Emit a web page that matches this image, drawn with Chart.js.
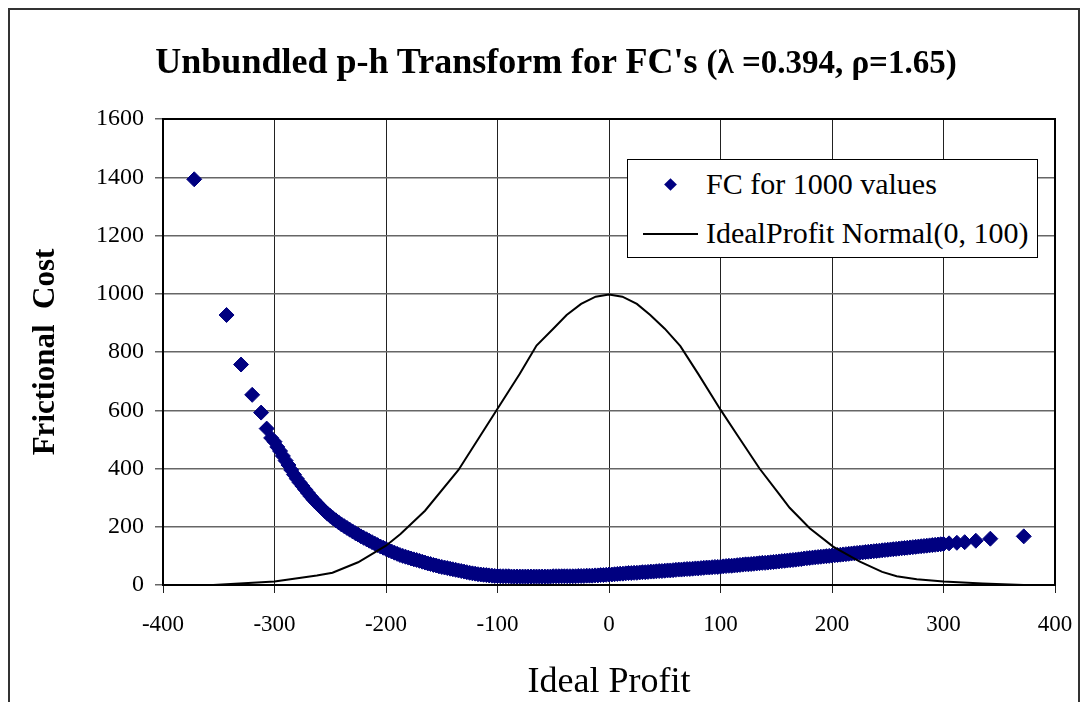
<!DOCTYPE html>
<html>
<head>
<meta charset="utf-8">
<script src="https://cdn.jsdelivr.net/npm/chart.js@4.4.0/dist/chart.umd.min.js"></script>
<style>
  body { margin: 0; background: #fff; font-family: "Liberation Serif", "Times New Roman", serif; }
  #wrap { position: relative; width: 1086px; height: 702px; overflow: hidden; }
  #frame { position: absolute; left: 8px; top: 8px; width: 1072px; height: 720px; border: 2px solid #333; box-sizing: border-box; }
  canvas { position: absolute; left: 0; top: 0; }
  #title { position: absolute; left: 0; width: 1112px; top: 46px; line-height: 30px; text-align: center;
           font-weight: bold; font-size: 36px; white-space: nowrap; color: #000; }
  #title span { font-size: 33px; }
  #legend { position: absolute; left: 627px; top: 159px; width: 411px; height: 99px; border: 1.5px solid #000;
            box-sizing: border-box; background: #fff; font-size: 30px; color: #000; }
  .row { position: absolute; left: 78px; height: 40px; line-height: 40px; white-space: nowrap; }
  .dia { position: absolute; left: 38px; top: 20px; width: 9px; height: 9px; background: #000080; transform: rotate(45deg); }
  .ln { position: absolute; left: 15px; top: 73px; width: 55px; height: 2px; background: #000; }
</style>
</head>
<body>
<div id="wrap">
  <div id="frame"></div>
  <canvas id="chart" width="1086" height="702"></canvas>
  <div id="title">Unbundled p-h Transform for FC's <span>(λ =0.394, ρ=1.65)</span></div>
  <div id="legend">
    <div class="dia"></div>
    <div class="row" style="top:4px">FC for 1000 values</div>
    <div class="ln"></div>
    <div class="row" style="top:53px">IdealProfit Normal(0, 100)</div>
  </div>
</div>
<script>
// axis ranges
const xMin = -400, xMax = 400, xStep = 100;
const yMin = 0, yMax = 1600, yStep = 200;

// frictional cost points, x and y rows line up
const fcX = [
  -372, -343, -330, -320, -312, -307, -303,
  -300, -297.5, -295, -292.5, -290, -287.5, -285, -282.5, -280, -277.5,
  -275, -272.5, -270, -267.5, -265, -262.5, -260, -257.5, -255, -252.5,
  -250, -247.5, -245, -242.5, -240, -237.5, -235, -232.5, -230, -227.5,
  -225, -222.5, -220, -217.5, -215, -212.5, -210, -207.5, -205, -202.5,
  -200, -197.5, -195, -192.5, -190, -187.5, -185, -182.5, -180, -177.5,
  -175, -172.5, -170, -167.5, -165, -162.5, -160, -157.5, -155, -152.5,
  -150, -147.5, -145, -142.5, -140, -137.5, -135, -132.5, -130, -127.5,
  -125, -122.5, -120, -117.5, -115, -112.5, -110, -107.5, -105, -102.5,
  -100, -97.5, -95, -92.5, -90, -87.5, -85, -82.5, -80, -77.5,
  -75, -72.5, -70, -67.5, -65, -62.5, -60, -57.5, -55, -52.5,
  -50, -47.5, -45, -42.5, -40, -37.5, -35, -32.5, -30, -27.5,
  -25, -22.5, -20, -17.5, -15, -12.5, -10, -7.5, -5, -2.5,
  0, 2.5, 5, 7.5, 10, 12.5, 15, 17.5, 20, 22.5,
  25, 27.5, 30, 32.5, 35, 37.5, 40, 42.5, 45, 47.5,
  50, 52.5, 55, 57.5, 60, 62.5, 65, 67.5, 70, 72.5,
  75, 77.5, 80, 82.5, 85, 87.5, 90, 92.5, 95, 97.5,
  100, 102.5, 105, 107.5, 110, 112.5, 115, 117.5, 120, 122.5,
  125, 127.5, 130, 132.5, 135, 137.5, 140, 142.5, 145, 147.5,
  150, 152.5, 155, 157.5, 160, 162.5, 165, 167.5, 170, 172.5,
  175, 177.5, 180, 182.5, 185, 187.5, 190, 192.5, 195, 197.5,
  200, 202.5, 205, 207.5, 210, 212.5, 215, 217.5, 220, 222.5,
  225, 227.5, 230, 232.5, 235, 237.5, 240, 242.5, 245, 247.5,
  250, 252.5, 255, 257.5, 260, 262.5, 265, 267.5, 270, 272.5,
  275, 277.5, 280, 282.5, 285, 287.5, 290, 292.5, 295, 297.5,
  300, 305, 312, 319, 329, 342, 372];
const fcY = [
  1393, 927, 757, 653, 592, 537, 505,
  492, 474, 460, 443, 427, 412, 395, 379, 365, 352,
  340, 328, 316, 304, 293, 283, 273, 263, 254, 245,
  237, 229, 222, 215, 208, 202, 196, 190, 184, 178,
  173, 167, 162, 157, 152, 147, 142, 137, 132, 128,
  124, 119, 115, 111, 107, 103, 100, 97, 94, 91,
  88, 86, 83, 80, 77, 74, 72, 69, 67, 64,
  62, 60, 58, 56, 54, 52, 50, 48, 46, 44,
  42, 40, 39, 37, 36, 35, 34, 33, 32, 31,
  31, 30, 30, 30, 30, 29, 29, 29, 29, 29,
  29, 29, 29, 29, 29, 29, 29, 29, 29, 29,
  30, 30, 30, 30, 30, 30, 30, 30, 30, 31,
  31, 31, 32, 32, 32, 33, 33, 34, 34, 35,
  36, 36, 37, 38, 39, 39, 40, 41, 41, 42,
  42, 43, 44, 44, 45, 46, 46, 47, 48, 48,
  49, 50, 50, 51, 52, 53, 53, 54, 55, 55,
  56, 57, 57, 58, 59, 60, 60, 61, 62, 62,
  63, 64, 65, 66, 66, 67, 68, 69, 70, 71,
  71, 72, 73, 74, 75, 76, 76, 77, 78, 79,
  80, 81, 82, 83, 84, 85, 86, 87, 88, 89,
  91, 92, 93, 94, 95, 96, 97, 98, 99, 100,
  101, 102, 103, 104, 105, 106, 107, 108, 109, 110,
  111, 112, 113, 114, 115, 116, 117, 118, 119, 120,
  121, 122, 123, 124, 125, 126, 127, 128, 129, 130,
  131, 132, 133, 134, 135, 136, 137, 138, 139, 140,
  141, 143, 145, 147, 152, 159, 167];

// ideal profit normal curve, vertices
const normX = [-355, -300, -262, -248, -225, -200, -187, -165, -135, -115, -100, -80, -65, -50, -38, -25, -12,
  0, 12, 25, 37, 50, 64, 80, 100, 115, 135, 153, 162, 180, 201, 225, 245, 258, 276, 300, 335, 372];
const normY = [0, 12, 33, 42, 78, 135, 175, 255, 395, 515, 605, 725, 822, 880, 927, 965, 990,
  997, 990, 965, 927, 880, 820, 725, 602, 515, 400, 310, 265, 195, 132, 80, 45, 30, 20, 12, 5, 0];

const fcData = fcX.map((x, i) => ({ x: x, y: fcY[i] }));
const normData = normX.map((x, i) => ({ x: x, y: normY[i] }));

const serif = "'Liberation Serif', 'Times New Roman', serif";

const plotFrame = {
  id: 'plotFrame',
  beforeDatasetsDraw(chart) {
    const { ctx, chartArea: a } = chart;
    ctx.save();
    ctx.strokeStyle = '#000';
    ctx.lineWidth = 2;
    ctx.strokeRect(a.left, a.top, a.right - a.left, a.bottom - a.top);
    ctx.restore();
  }
};

new Chart(document.getElementById('chart'), {
  type: 'scatter',
  data: {
    datasets: [
      {
        label: 'FC for 1000 values',
        data: fcData,
        pointStyle: 'rectRot',
        pointRadius: 7.5,
        pointBackgroundColor: '#000080',
        pointBorderColor: '#000080',
        pointBorderWidth: 1,
        showLine: false,
        order: 1
      },
      {
        label: 'IdealProfit Normal(0, 100)',
        type: 'line',
        data: normData,
        borderColor: '#000',
        borderWidth: 2,
        pointRadius: 0,
        fill: false,
        tension: 0,
        order: 0
      }
    ]
  },
  options: {
    responsive: false,
    animation: false,
    layout: { autoPadding: false, padding: { top: 119, right: 31, left: 0, bottom: 0 } },
    plugins: { legend: { display: false }, tooltip: { enabled: false } },
    scales: {
      x: {
        type: 'linear',
        min: xMin, max: xMax,
        afterFit: s => { s.height = 117; s.paddingLeft = 0; s.paddingRight = 0; },
        ticks: { stepSize: xStep, color: '#000', padding: 18, callback: v => String(v),
                 font: { family: serif, size: 23 } },
        grid: { color: '#222', lineWidth: 1, tickLength: 8 },
        border: { color: '#000', width: 2 },
        title: { display: true, text: 'Ideal Profit', color: '#000',
                 font: { family: serif, size: 36, lineHeight: 1 }, padding: { top: 0, bottom: 1 } }
      },
      y: {
        type: 'linear',
        min: yMin, max: yMax,
        afterFit: s => { s.width = 163; s.paddingTop = 0; s.paddingBottom = 0; },
        ticks: { stepSize: yStep, color: '#000', padding: 11, callback: v => String(v),
                 font: { family: serif, size: 24 } },
        grid: { color: '#666', lineWidth: 1.5, tickLength: 8 },
        border: { color: '#000', width: 2 },
        title: { display: true, text: 'Frictional  Cost', color: '#000',
                 font: { family: serif, size: 31, weight: 'bold', lineHeight: 1.2 }, padding: { top: 27, bottom: 0 } }
      }
    }
  },
  plugins: [plotFrame]
});
</script>
</body>
</html>
